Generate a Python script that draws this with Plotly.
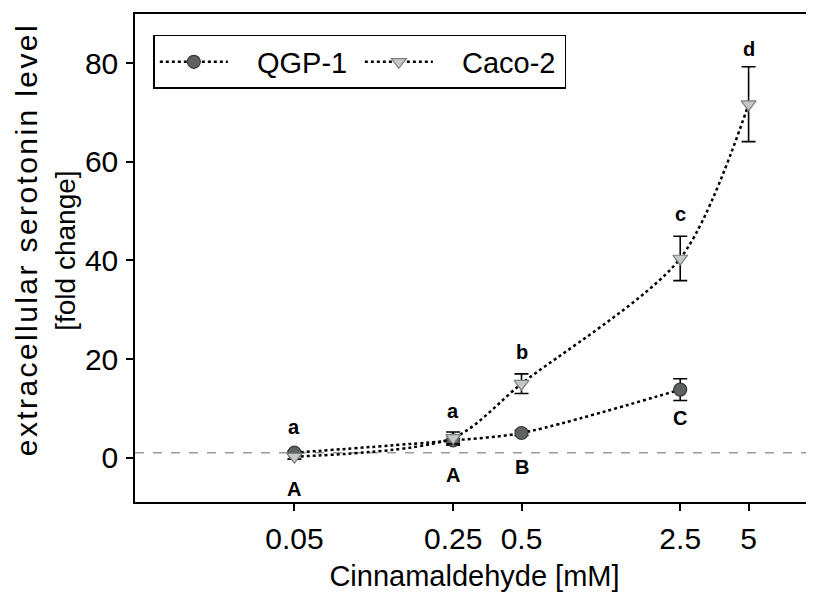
import math
import plotly.graph_objects as go

# ---- data ----
conc = [0.05, 0.25, 0.5, 2.5, 5]
tick_labels = ["0.05", "0.25", "0.5", "2.5", "5"]

qgp_x = [0.05, 0.25, 0.5, 2.5]
qgp_mean = [1.0, 3.5, 5.0, 13.8]
qgp_err = [0.3, 1.0, 0.5, 2.2]

caco_x = [0.05, 0.25, 0.5, 2.5, 5]
caco_mean = [0.2, 4.0, 15.0, 40.4, 71.7]
caco_err = [0.5, 1.2, 2.0, 4.5, 7.6]

caco_letters = ["a", "a", "b", "c", "d"]
caco_letter_y = [6.3, 9.5, 21.5, 49.4, 83.0]
qgp_letters = ["A", "A", "B", "C"]
qgp_letter_y = [-6.4, -3.6, -2.0, 8.1]

FONT = "Liberation Sans, Arial, sans-serif"
NB = "\u00a0"

fig = go.Figure()

fig.add_trace(go.Scatter(
    x=qgp_x, y=qgp_mean, name=NB * 3 + "QGP-1", mode="lines+markers",
    line=dict(color="black", width=2.5, dash="dot", shape="spline", smoothing=0.8),
    marker=dict(symbol="circle", size=13, color="#5f6262",
                line=dict(color="#3a3a3a", width=1.2)),
    error_y=dict(type="data", array=qgp_err, visible=True, color="black",
                 thickness=1.6, width=7),
))
fig.add_trace(go.Scatter(
    x=caco_x, y=caco_mean, name=NB * 3 + "Caco-2", mode="lines+markers",
    line=dict(color="black", width=2.5, dash="dot", shape="spline", smoothing=0.8),
    marker=dict(symbol="triangle-down", size=13, color="#c4c8c8",
                line=dict(color="#7c8080", width=1.2)),
    error_y=dict(type="data", array=caco_err, visible=True, color="black",
                 thickness=1.6, width=7),
))

# reference line at fold change 1
fig.add_shape(type="line", xref="paper", x0=0, x1=1, yref="y", y0=1, y1=1,
              line=dict(color="#9a9a9a", width=1.6, dash="dash"), layer="below")

for xv, t, yv in zip(caco_x, caco_letters, caco_letter_y):
    fig.add_annotation(x=math.log10(xv), y=yv, text="<b>%s</b>" % t, showarrow=False,
                       font=dict(family=FONT, size=20, color="black"))
for xv, t, yv in zip(qgp_x, qgp_letters, qgp_letter_y):
    fig.add_annotation(x=math.log10(xv), y=yv, text="<b>%s</b>" % t, showarrow=False,
                       font=dict(family=FONT, size=20, color="black"))

# y-axis title (two lines)
fig.add_annotation(xref="paper", yref="paper", x=-0.186, y=0.537, xanchor="left",
                   text='<span style="letter-spacing:2.4px">extracellular serotonin level</span>',
                   textangle=-90, showarrow=False,
                   font=dict(family=FONT, size=30, color="black"))
fig.add_annotation(xref="paper", yref="paper", x=-0.128, y=0.514, xanchor="left",
                   text="[fold change]", textangle=-90, showarrow=False,
                   font=dict(family=FONT, size=28, color="black"))

fig.update_layout(
    width=814, height=594,
    margin=dict(l=127, r=8, t=4, b=100),
    plot_bgcolor="white", paper_bgcolor="white",
    font=dict(family=FONT, color="black", size=30),
    showlegend=True,
    legend=dict(orientation="h", x=0.027, y=0.957, xanchor="left", yanchor="top",
                bordercolor="black", borderwidth=1.5, bgcolor="white",
                font=dict(family=FONT, size=29), itemwidth=68,
                entrywidth=122, tracegroupgap=0),
)
fig.update_xaxes(
    type="log", range=[-2.003, 0.987],
    tickvals=conc, ticktext=tick_labels,
    ticks="outside", ticklen=7, tickwidth=1.5, tickcolor="black",
    showline=True, linecolor="black", linewidth=1.5, mirror=True,
    showgrid=False, zeroline=False,
    tickfont=dict(family=FONT, size=30), ticklabelstandoff=2,
    title=dict(text="Cinnamaldehyde [mM]", font=dict(family=FONT, size=29), standoff=12),
)
fig.update_yaxes(
    range=[-9, 90], tickvals=[0, 20, 40, 60, 80],
    ticks="outside", ticklen=7, tickwidth=1.5, tickcolor="black",
    showline=True, linecolor="black", linewidth=1.5, mirror=True,
    showgrid=False, zeroline=False,
    tickfont=dict(family=FONT, size=30), ticklabelstandoff=2,
)

fig.write_html("out.html")
